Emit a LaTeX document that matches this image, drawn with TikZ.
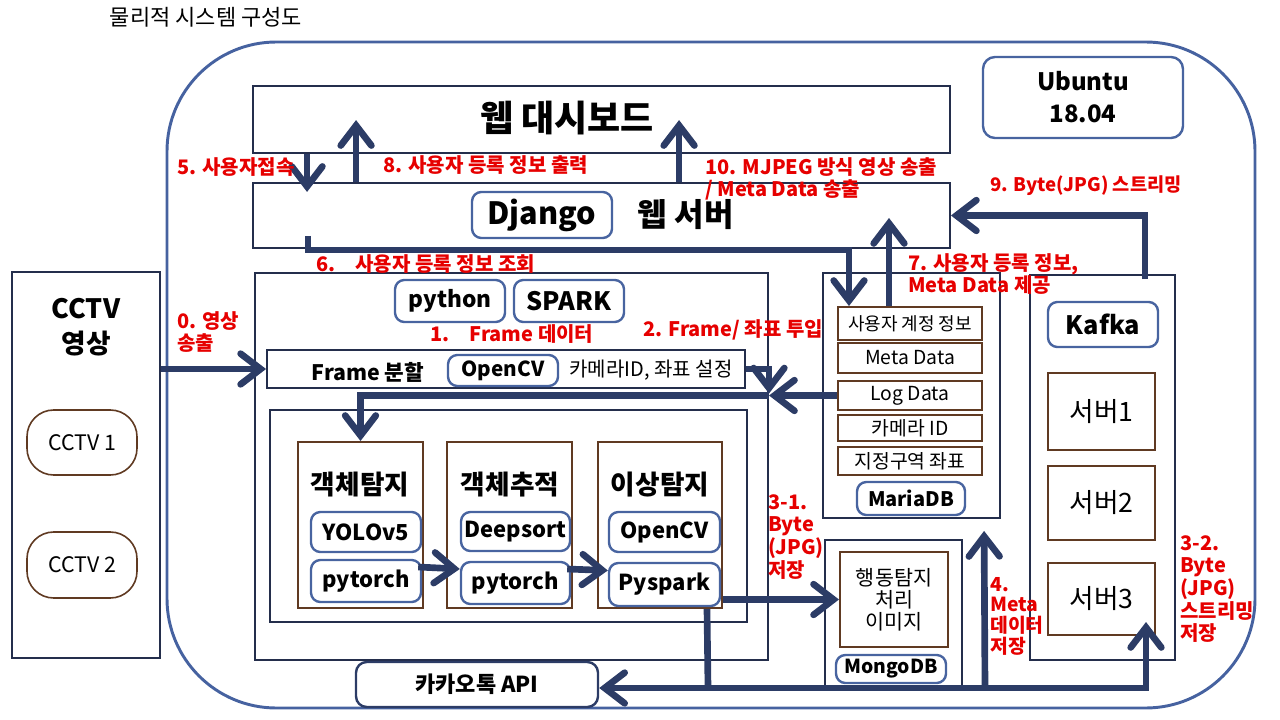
\documentclass[tikz,border=0pt]{standalone}
\usepackage{fontspec}
\setmainfont{Noto Sans CJK KR}
\usepackage{tikz}
\usetikzlibrary{arrows.meta,calc,positioning}
\definecolor{navy}{RGB}{44,60,102}
\definecolor{boxline}{RGB}{36,46,76}
\definecolor{toolblue}{RGB}{72,100,160}
\definecolor{frameblue}{RGB}{70,98,160}
\definecolor{itembrown}{RGB}{96,58,34}
\definecolor{notered}{RGB}{230,0,0}
\newcommand{\fs}[2]{\fontsize{#1}{#2}\selectfont}

\begin{document}
\begin{tikzpicture}[x=0.75pt,y=-0.75pt,
  sz/.style 2 args={minimum width=#1*0.75pt,minimum height=#2*0.75pt},
  box/.style={draw=boxline,line width=1.4pt,inner sep=0pt},
  tool/.style={draw=toolblue,line width=1.8pt,rounded corners=7pt,inner sep=0pt,font=\bfseries\fs{16.5}{18}},
  item/.style={draw=itembrown,line width=1.5pt,inner sep=0pt,font=\fs{14.5}{16}},
  stage/.style={font=\bfseries\fs{20}{22}},
  arr/.style={draw=navy,line width=5pt,-{Straight Barb[length=15pt,width=23pt,line cap=round]}},
  wire/.style={draw=navy,line width=5pt},
  note/.style={text=notered,font=\bfseries\fs{15}{17},align=left,inner sep=0pt}]
\useasboundingbox (0,0) rectangle (1280,720);
\node[font=\fs{16.5}{18}] (title) at (206,17) {물리적 시스템 구성도};

% Ubuntu host
\node[sz={1088}{666},draw=frameblue,line width=2.2pt,rounded corners=82pt,inner sep=0pt] (ubuntu) at (711,375) {};
\node[tool,sz={200}{81},rounded corners=9pt,align=center,font=\bfseries\fs{18}{24}] (os) at (1083,97.5) {Ubuntu\\18.04};

% web layer
\node[box,sz={697}{67}] (dash) at (601.5,119.5) {};
\node[font=\bfseries\fs{27}{30}] (dashtxt) at (567,118) {웹 대시보드};
\node[box,sz={697}{65}] (web) at (601.5,215.5) {};
\node[tool,sz={140}{46},font=\bfseries\fs{23}{26}] (django) at (542,215) {Django};
\node[font=\bfseries\fs{24}{26},right=15pt of django] (webtxt) {웹 서버};

% cameras
\node[box,sz={148}{386}] (cctv) at (86,465) {};
\node[font=\bfseries\fs{20}{26},align=center] (cctvtxt) at (86,327) {CCTV\\영상};
\node[item,line width=1.2pt,rounded corners=20pt,sz={110}{65},font=\fs{16}{18}] (cam1) at (82,442.5) {CCTV 1};
\node[item,line width=1.2pt,rounded corners=20pt,sz={110}{66},font=\fs{16}{18}] (cam2) at (82,565) {CCTV 2};

% spark
\node[box,sz={513}{387}] (spark) at (511.5,466.5) {};
\node[tool,sz={110}{42},font=\bfseries\fs{17}{19}] (python) at (450,301) {python};
\node[tool,sz={110}{42},font=\bfseries\fs{19}{21}] (sparktool) at (569,301) {SPARK};
\node[box,sz={478}{38}] (frame) at (506,369) {};
\node[font=\bfseries\fs{16}{18}] (frametxt) at (368,372) {Frame 분할};
\node[tool,sz={110}{31},font=\bfseries\fs{15.5}{17}] (cv) at (503,370.5) {OpenCV};
\node[font=\fs{15}{17}] (camset) at (651,370) {카메라ID, 좌표 설정};
\node[box,sz={477}{212}] (pipe) at (508.5,516) {};
\node[item,sz={125}{166}] (det) at (360.5,525) {};
\node[stage] (dettxt) at (360,485) {객체탐지};
\node[tool,sz={110}{40}] (yolo) at (366,532) {YOLOv5};
\node[tool,sz={110}{42}] (pt1) at (366,581) {pytorch};
\node[item,sz={125}{166}] (trk) at (509.5,525) {};
\node[stage] (trktxt) at (510,485) {객체추적};
\node[tool,sz={109}{39}] (deep) at (515.5,531.5) {Deepsort};
\node[tool,sz={109}{42}] (pt2) at (515.5,583) {pytorch};
\node[item,sz={124}{166}] (anom) at (660,525) {};
\node[stage] (anomtxt) at (660,485) {이상탐지};
\node[tool,sz={111}{40}] (cv2) at (664.5,532) {OpenCV};
\node[tool,sz={111}{43}] (pysp) at (664.5,584.5) {Pyspark};
\node[tool,draw=navy,sz={242}{45},rounded corners=8pt] (kakao) at (477,684.5) {카카오톡 API};

% MariaDB
\node[box,sz={177}{245}] (mdb) at (911.5,395.5) {};
\node[item,sz={144}{33},font=\fs{13.5}{15}] (acct) at (910,323.5) {사용자 계정 정보};
\node[item,sz={144}{30}] (meta) at (910,358) {Meta Data};
\node[item,sz={144}{29}] (logd) at (910,395.5) {Log Data};
\node[item,sz={144}{26}] (camid) at (910,428) {카메라 ID};
\node[item,sz={144}{28}] (zone) at (910,461) {지정구역 좌표};
\node[tool,sz={108}{33},font=\bfseries\fs{15}{17}] (maria) at (911,498.5) {MariaDB};

% MongoDB
\node[box,sz={137}{146}] (mgb) at (893.5,613) {};
\node[item,sz={108}{95},align=center,font=\fs{15.5}{16.5}] (img) at (894,599.5) {행동탐지\\처리\\이미지};
\node[tool,sz={110}{28},font=\bfseries\fs{14.5}{16}] (mongo) at (891,669) {MongoDB};

% Kafka
\node[box,sz={145}{385}] (kfk) at (1102.5,467.5) {};
\node[tool,sz={110}{45},font=\bfseries\fs{19}{21}] (kafka) at (1103,324.5) {Kafka};
\node[item,sz={107}{77},font=\fs{20}{22}] (srv1) at (1101.5,411.5) {서버1};
\node[item,sz={107}{74},font=\fs{20}{22}] (srv2) at (1101.5,503) {서버2};
\node[item,sz={107}{72},font=\fs{20}{22}] (srv3) at (1101.5,599) {서버3};

% connectors
\path (logd.west) ++(-68,0) coordinate (jn);
\coordinate (q6) at (308,236);
\coordinate (bus) at (708,688);
\draw[arr] (cctv.east |- frame.west) -- (frame.west);
\draw[arr] (frame.east) -| ($(jn)+(0,-2)$);
\draw[arr] (logd.west) -- (jn);
\draw[arr] (jn) -| (det.north);
\draw[arr] ($(dash.south west)+(55,0)$) -- ++(0,38);
\draw[arr] ($(web.north west)+(104,0)$) -- ++(0,-62);
\draw[arr] ($(web.north west)+(427,0)$) -- ++(0,-62);
\draw[arr] (q6) -- ++(0,14) -| ($(acct.north west)+(12,0)$);
\draw[arr] ($(acct.north west)+(52,0)$) -- ++(0,-88);
\draw[arr] ($(kfk.north west)+(116,5)$) |- (web.east);
\draw[arr] ($(pt1.east)+(-4,-14)$) -- ($(pt2.west)+(0,-14)$);
\draw[arr] ($(pt2.east)+(-4,-14)$) -- ($(pysp.west)+(0,-14)$);
\draw[arr] (anom.east |- img.west) -- (img.west);
\draw[wire] ($(anom.south west)+(110,0)$) -- (bus);
\draw[arr] (bus) -| ($(srv3.south east)+(-10,-14)$);
\draw[arr] (bus) -- (bus -| kakao.east);
\draw[arr] ($(bus)+(277,0)$) -- ($(mdb.south west)+(162,12)$);

% step labels
\node[note,anchor=north west] (n0) at (177,311) {0. 영상\\송출};
\node[note,anchor=west] (n5) at (177,167) {5. 사용자접속};
\node[note,anchor=west] (n8) at (383,165) {8. 사용자 등록 정보 출력};
\node[note,anchor=north west] (n10) at (705,157) {10. MJPEG 방식 영상 송출\\/ Meta Data 송출};
\node[note,anchor=west] (n6) at (316,264) {6.\quad 사용자 등록 정보 조회};
\node[note,anchor=north west] (n7) at (908,253) {7. 사용자 등록 정보,\\Meta Data 제공};
\node[note,anchor=west,font=\bfseries\fs{14}{17}] (n9) at (990,186) {9. Byte(JPG) 스트리밍};
\node[note,anchor=west] (n1) at (430,334) {1.\quad Frame 데이터};
\node[note,anchor=west] (n2) at (643,330) {2. Frame/ 좌표 투입};
\node[note,anchor=north west] (n31) at (768,494) {3-1.\\Byte\\(JPG)\\저장};
\node[note,anchor=north west,font=\bfseries\fs{14.5}{15.5}] (n4) at (990,577) {4.\\Meta\\데이터\\저장};
\node[note,anchor=north west] (n32) at (1180,535) {3-2.\\Byte\\(JPG)\\스트리밍\\저장};
\end{tikzpicture}
\end{document}
